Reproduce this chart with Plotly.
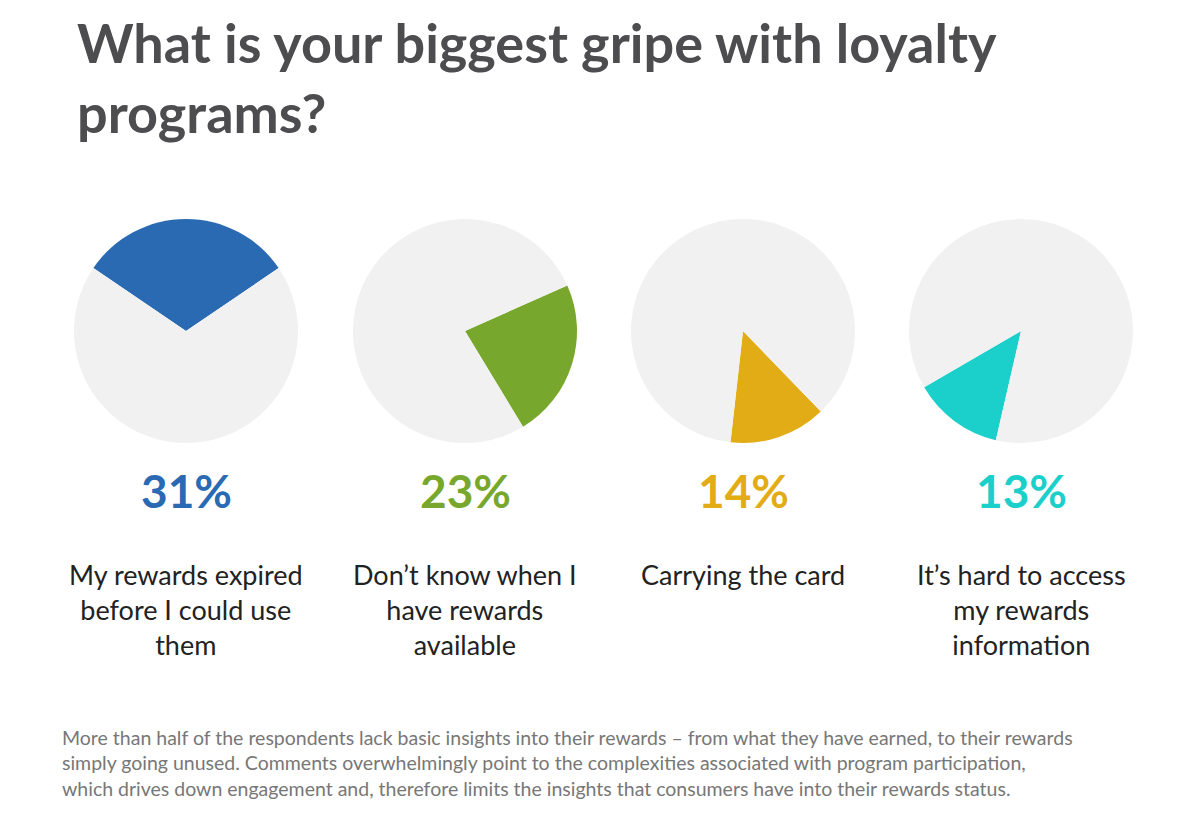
import plotly.graph_objects as go

shares = [31, 23, 14, 13]
pct_labels = ['31%', '23%', '14%', '13%']
captions = ['My rewards expired<br>before I could use<br>them',
            'Don’t know when I<br>have rewards<br>available',
            'Carrying the card',
            'It’s hard to access<br>my rewards<br>information']
colors = ['#2a6ab3', '#78a72d', '#e2ac16', '#1bcfca']
rotations = [-55.8, 66, 136, 193]
centers = [178, 457, 735, 1013]

W, H = 1181, 818
fig = go.Figure()
r = 112
for i in range(4):
    cx = centers[i]
    fig.add_trace(go.Pie(
        values=[shares[i], 100 - shares[i]],
        marker=dict(colors=[colors[i], '#f0f1f0'], line=dict(width=0)),
        sort=False, direction='clockwise', rotation=rotations[i],
        textinfo='none', hoverinfo='skip', showlegend=False,
        domain=dict(x=[(cx - r) / W, (cx + r) / W], y=[(H - 435) / H, (H - 211) / H])))
    fig.add_annotation(x=cx / W, y=1 - 482 / H, xref='paper', yref='paper', xanchor='center',
                       text='<b>' + pct_labels[i] + '</b>', showarrow=False,
                       font=dict(size=46, color=colors[i], family='Lato'))
    fig.add_annotation(x=cx / W, y=1 - 548 / H, xref='paper', yref='paper', xanchor='center', yanchor='top',
                       text=captions[i], showarrow=False, align='center',
                       font=dict(size=27, color='#222', family='Lato'))

fig.add_annotation(x=67 / W, y=1 - 0 / H, xref='paper', yref='paper', xanchor='left', yanchor='top',
                   text='<b>What is your biggest gripe with loyalty<br>programs?</b>', showarrow=False,
                   align='left', font=dict(size=54, color='#4d4d4f', family='Lato'))
fig.add_annotation(x=52 / W, y=1 - 716 / H, xref='paper', yref='paper', xanchor='left', yanchor='top',
                   text='More than half of the respondents lack basic insights into their rewards – from what they have earned, to their rewards<br>'
                        'simply going unused. Comments overwhelmingly point to the complexities associated with program participation,<br>'
                        'which drives down engagement and, therefore limits the insights that consumers have into their rewards status.',
                   showarrow=False, align='left', font=dict(size=19.5, color='#777', family='Lato'))

fig.update_layout(width=W, height=H, margin=dict(l=0, r=0, t=0, b=0),
                  paper_bgcolor='white', plot_bgcolor='white')
fig.write_html('out.html')
